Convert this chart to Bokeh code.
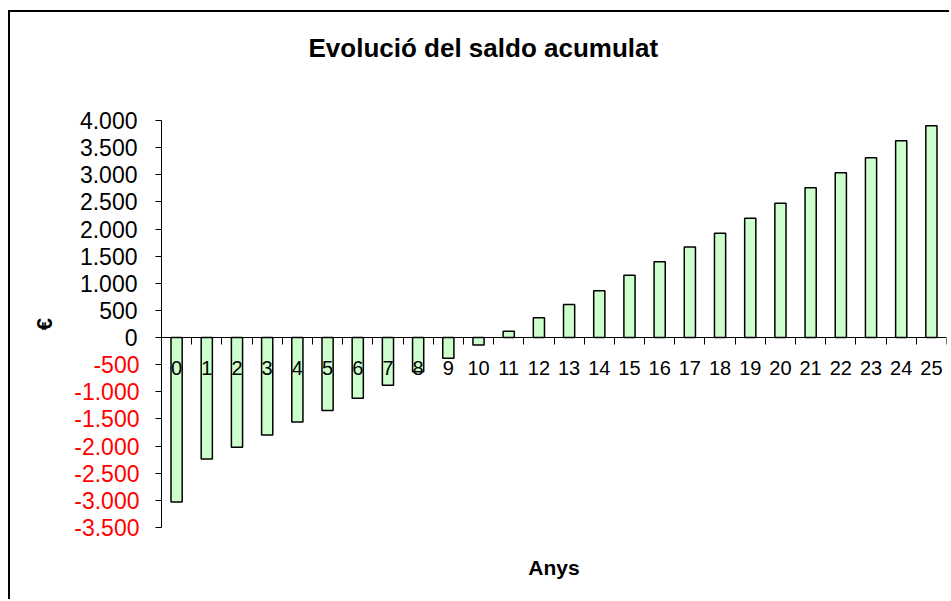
from bokeh.plotting import figure
from bokeh.models import (Range1d, LinearAxis, FixedTicker, ColumnDataSource,
                          LabelSet, CustomJSTickFormatter, Title)
from bokeh.core.properties import value
from bokeh.embed import file_html
from bokeh.resources import INLINE

FONT = "Liberation Sans"

# --- data -------------------------------------------------------------
chart_title = "Evolució del saldo acumulat"
x_title = "Anys"
y_title = "€"
years = list(range(26))
saldo = [-3030, -2240, -2020, -1795, -1555, -1345, -1120, -880, -630, -380,
         -135, 118, 363, 610, 864, 1148, 1395, 1670, 1923, 2199,
         2476, 2759, 3036, 3312, 3626, 3902]
y_ticks = list(range(-3500, 4001, 500))


def fmt_thousands(v):
    return f"{v:,}".replace(",", ".")


# --- figure -----------------------------------------------------------
p = figure(width=941, height=589, output_backend="svg", toolbar_location=None,
           x_range=Range1d(years[0] - 0.5, years[-1] + 0.5),
           y_range=Range1d(y_ticks[0], y_ticks[-1]),
           min_border_left=151, min_border_right=5,
           min_border_top=108, min_border_bottom=74,
           background_fill_color="white", border_fill_color="white",
           outline_line_color=None)
# chart-area frame (left and top edges)
p.styles = {"margin-left": "10px", "margin-top": "12px",
            "box-shadow": "-2px -2px 0 0 #000"}
p.grid.visible = False

# title block: a blank spacer next to the plot, the title above it
p.title.text = ""
p.add_layout(Title(text=" ", text_font=FONT, text_font_size="10px",
                   standoff=43), "above")
p.add_layout(Title(text=chart_title, text_font=FONT, text_font_style="bold",
                   text_font_size="26px", text_color="black",
                   align="left", vertical_align="top", offset=147,
                   standoff=0), "above")

# value axis (next to the plot): ticks and the non-negative labels in black
p.yaxis.ticker = FixedTicker(ticks=y_ticks)
p.yaxis.major_label_overrides = {v: (fmt_thousands(v) if v >= 0 else "")
                                 for v in y_ticks}
p.yaxis.major_tick_out = 6
p.yaxis.major_tick_in = 0
p.yaxis.minor_tick_line_color = None
p.yaxis.axis_line_color = "black"
p.yaxis.major_tick_line_color = "black"
p.yaxis.major_label_standoff = 18
p.yaxis.major_label_text_font = FONT
p.yaxis.major_label_text_font_size = "23px"
p.yaxis.major_label_text_color = "black"

# second value axis: the negative labels in red, pulled back under the first
neg_axis = LinearAxis(ticker=FixedTicker(ticks=y_ticks),
                      major_label_overrides={v: (fmt_thousands(v) if v < 0 else "")
                                             for v in y_ticks},
                      major_tick_out=0, major_tick_in=0,
                      major_tick_line_color=None, minor_tick_line_color=None,
                      axis_line_color=None, major_label_standoff=-63,
                      major_label_text_font=FONT,
                      major_label_text_font_size="23px",
                      major_label_text_color="#FF0000",
                      axis_label=y_title, axis_label_text_font=FONT,
                      axis_label_text_font_style="bold",
                      axis_label_text_font_size="22px",
                      axis_label_text_color="black",
                      axis_label_standoff=14)
p.add_layout(neg_axis, "left")

# bottom axis only carries the title
p.xaxis.ticker = FixedTicker(ticks=[])
p.xaxis.axis_line_color = None
p.xaxis.major_tick_line_color = None
p.xaxis.minor_tick_line_color = None
p.xaxis.major_label_standoff = 0
p.xaxis.axis_label = x_title
p.xaxis.axis_label_text_font = FONT
p.xaxis.axis_label_text_font_style = "bold"
p.xaxis.axis_label_text_font_size = "21px"
p.xaxis.axis_label_text_color = "black"
p.xaxis.axis_label_standoff = 28

# category axis crossing at zero, with tick marks between the years
boundaries = [y - 0.5 for y in years] + [years[-1] + 0.5]
zero_axis = LinearAxis(fixed_location=0, ticker=FixedTicker(ticks=boundaries),
                       formatter=CustomJSTickFormatter(code="return ''"),
                       major_tick_out=7, major_tick_in=0,
                       minor_tick_line_color=None,
                       axis_line_color="black", major_tick_line_color="black",
                       major_label_standoff=0)
p.add_layout(zero_axis, "below")

# bars
p.vbar(x=years, top=saldo, bottom=0, width=0.37,
       fill_color="#CCFFCC", line_color="black", line_width=1.5)

# year labels just under the zero line
year_src = ColumnDataSource(dict(x=years, y=[0] * len(years),
                                 text=[str(y) for y in years]))
p.add_layout(LabelSet(x="x", y="y", text="text", source=year_src,
                      y_offset=-37, text_align="center",
                      text_baseline="alphabetic", text_font=value(FONT),
                      text_font_size=value("20px"), text_color="black"))

with open("out.html", "w") as f:
    f.write(file_html(p, INLINE))
